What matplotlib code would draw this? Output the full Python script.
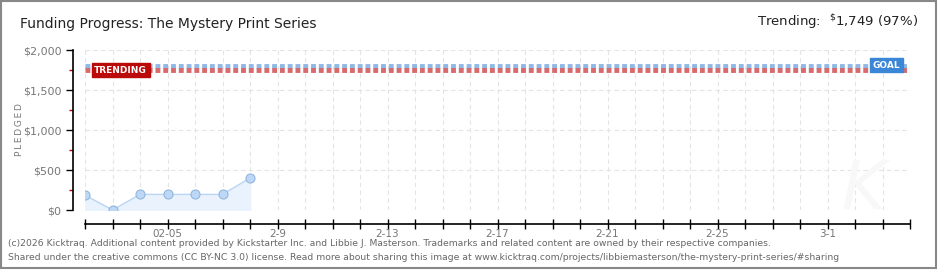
import matplotlib.pyplot as plt
from matplotlib.patches import Rectangle
from matplotlib.ticker import MultipleLocator

# data
days = [0, 1, 2, 3, 4, 5, 6]          # day index from 2-2
pledged = [185, 0, 195, 195, 195, 195, 400]
goal = 1800
trending = 1749
tick_pos = [3, 7, 11, 15, 19, 23, 27]
tick_labels = ["02-05", "2-9", "2-13", "2-17", "2-21", "2-25", "3-1"]
y_ticks = [0, 500, 1000, 1500, 2000]
y_labels = ["$0", "$500", "$1,000", "$1,500", "$2,000"]

fig = plt.figure(figsize=(9.4, 2.7), dpi=100)
fig.patch.set_facecolor("white")

# outer frame
fig.patches.append(Rectangle((0.5 / 940, 2 / 270), 935 / 940, 267 / 270,
                             transform=fig.transFigure, fill=False,
                             edgecolor="#888888", linewidth=1.5))

ax = fig.add_axes([85 / 940, 60 / 270, 825 / 940, 160 / 270])
ax.set_xlim(0, 30)
ax.set_ylim(0, 2000)

# grid
for d in range(31):
    ax.axvline(d, color="#e4e4e4", lw=0.8, ls=(0, (4, 3)), zorder=0)
for y in y_ticks:
    ax.axhline(y, color="#e4e4e4", lw=0.8, ls=(0, (4, 3)), zorder=0)

# goal / trending lines
ax.axhline(goal, color="#8fb8e6", lw=3.5, ls=(0, (1, 0.6)), zorder=2)
ax.axhline(trending, color="#d9696b", lw=3.5, ls=(0, (1, 0.6)), zorder=2)

# pledged series
ax.fill_between(days, pledged, 0, color="#eaf3fd", zorder=1)
ax.plot(days, pledged, color="#b9d5f3", lw=1, zorder=3)
ax.plot(days, pledged, "o", ms=6.5, mfc="#bcd8f6", mec="#93b5de", mew=0.8, zorder=4)

# labels on lines
ax.text(1.3, trending, "TRENDING", color="white", fontsize=6.5, ha="center",
        va="center", fontweight="bold",
        bbox=dict(boxstyle="square,pad=0.3", fc="#bb0a0a", ec="#bb0a0a"), zorder=5)
ax.text(29.15, goal + 10, "GOAL", color="white", fontsize=6.5, ha="center",
        va="center", fontweight="bold",
        bbox=dict(boxstyle="square,pad=0.3", fc="#3b86d6", ec="#3b86d6"), zorder=5)

# axes styling
for s in ["top", "right"]:
    ax.spines[s].set_visible(False)
ax.spines["left"].set_position(("outward", 9))
ax.spines["bottom"].set_position(("outward", 10))
ax.spines["left"].set_bounds(0, 2000)
ax.spines["bottom"].set_bounds(0, 30)
ax.spines["left"].set_linewidth(1.2)
ax.spines["bottom"].set_linewidth(1.2)

ax.set_yticks(y_ticks)
ax.set_yticklabels(y_labels)
ax.yaxis.set_minor_locator(MultipleLocator(250))
ax.tick_params(axis="y", which="major", length=5, width=1, color="black",
               labelsize=8, labelcolor="#777777", pad=3)
ax.tick_params(axis="y", which="minor", length=3, width=1, color="#cc0000")

ax.set_xticks(range(31), minor=True)
ax.set_xticks(tick_pos)
ax.set_xticklabels(tick_labels)
ax.tick_params(axis="x", which="both", direction="inout", length=7, width=1,
               color="black", labelsize=7.5, labelcolor="#777777", pad=0)

ax.set_ylabel("P\u2009L\u2009E\u2009D\u2009G\u2009E\u2009D", fontsize=6.5,
              color="#777777")
ax.yaxis.set_label_coords(-0.074, 0.5)

# faint watermark
ax.text(28.3, 250, "K", fontsize=48, color="#f8f8f8", style="italic",
        ha="center", va="center", zorder=0)

# titles
fig.text(20 / 940, 1 - 24 / 270, "Funding Progress: The Mystery Print Series",
         fontsize=10, color="#222222", va="center")
fig.text(918 / 940, 1 - 22 / 270, r"Trending:  $^{\$}$1,749 (97%)",
         fontsize=9.5, color="#222222", va="center", ha="right")

# footer
fig.text(8 / 940, 1 - 243 / 270,
         "(c)2026 Kicktraq. Additional content provided by Kickstarter Inc. and Libbie J. Masterson. "
         "Trademarks and related content are owned by their respective companies.",
         fontsize=6.65, color="#666666", va="center")
fig.text(8 / 940, 1 - 257 / 270,
         "Shared under the creative commons (CC BY-NC 3.0) license. Read more about sharing this image at "
         "www.kicktraq.com/projects/libbiemasterson/the-mystery-print-series/#sharing",
         fontsize=6.65, color="#666666", va="center")

fig.savefig("out.png", dpi=100, facecolor="white")
